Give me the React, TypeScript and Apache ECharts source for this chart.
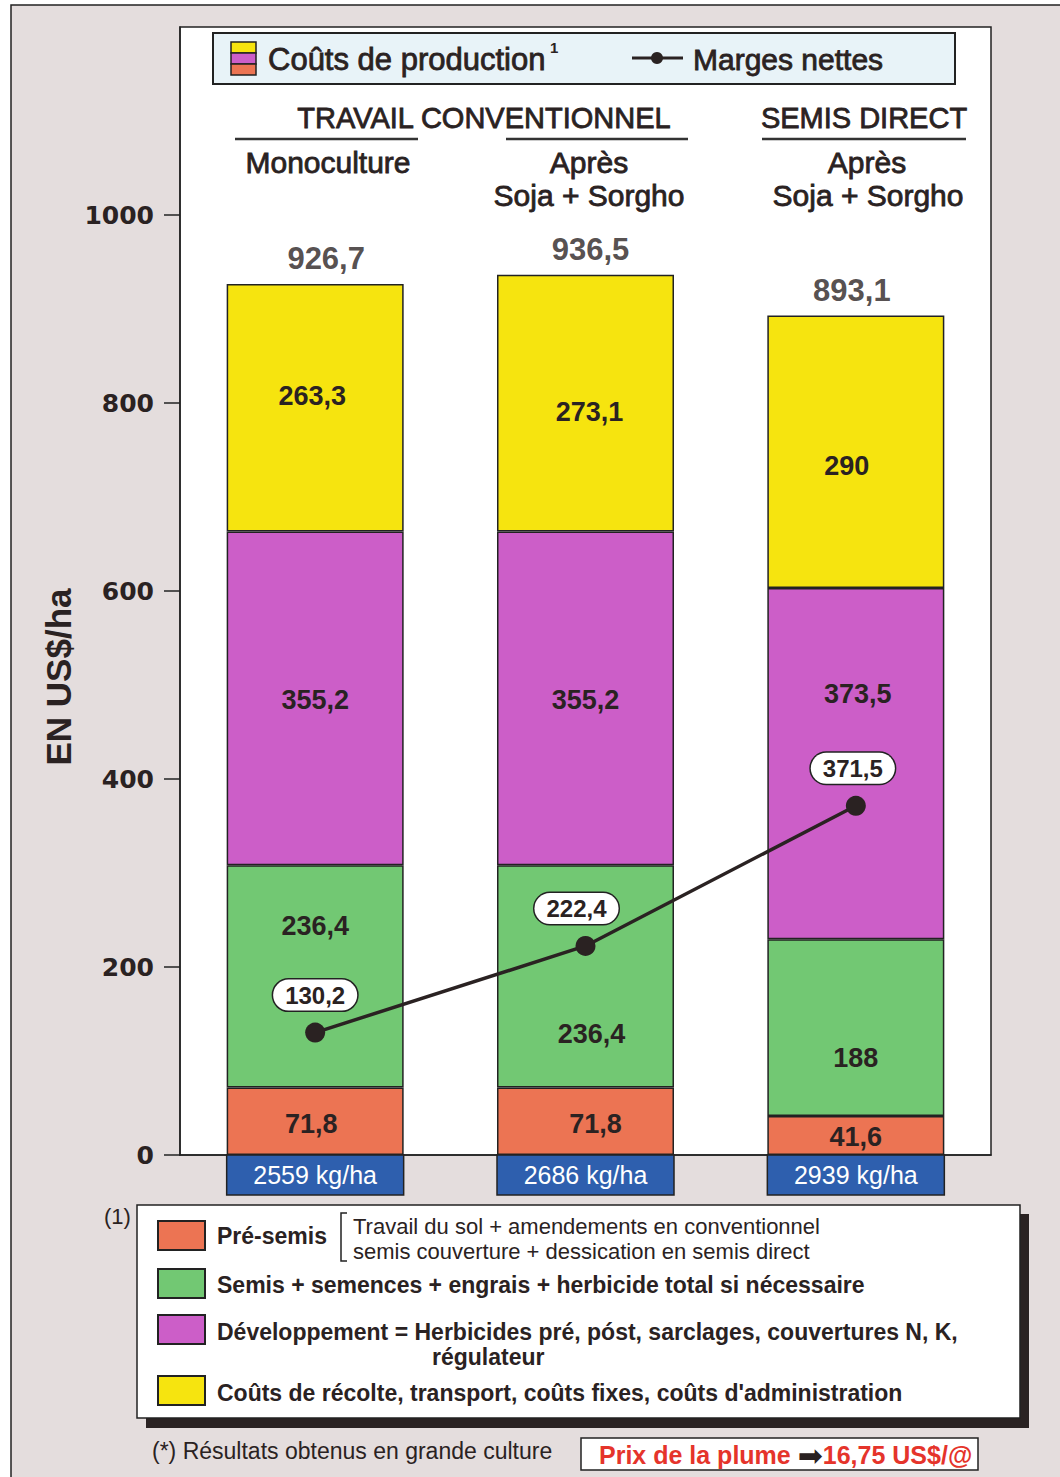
import React, { useEffect, useRef } from 'react';
import * as echarts from 'echarts';

// ---------- data ----------
const categories = ['Monoculture', 'Après Soja + Sorgho (TC)', 'Après Soja + Sorgho (SD)'];
const preSemis = [71.8, 71.8, 41.6];
const semis = [236.4, 236.4, 188];
const developpement = [355.2, 355.2, 373.5];
const recolte = [263.3, 273.1, 290];
const totals = [926.7, 936.5, 893.1];
const marges = [130.2, 222.4, 371.5];
const rendements = [2559, 2686, 2939];
const yTicks = [0, 200, 400, 600, 800, 1000];

// ---------- layout (label nudges, px) ----------
const offPre = [[-4, 3], [10, 3], [0, 2]];
const offSemis = [[0, -50], [6, 58], [0, 30]];
const offDev = [[0, 2], [0, 2], [2, -70]];
const offRec = [[-3, -12], [4, 9], [-9, 14]];
const offTot = [[11, 0], [5, 0], [-4, 0]];
const offMarge = [[0, 0], [-9, 0], [-3, 0]];

const FF = '"Liberation Sans", Arial, sans-serif';
const C_ORANGE = '#ec7453';
const C_GREEN = '#72c873';
const C_PURPLE = '#cc5ec8';
const C_YELLOW = '#f6e40f';
const C_BLUE = '#2e5fae';
const C_INK = '#2a2222';
const C_RED = '#e5342b';
const BAR_W = 177;

const fmt = (v: number) => String(v).replace('.', ',');

const txt = (
  text: string,
  x: number,
  y: number,
  font: string,
  align = 'left',
  fill = C_INK,
  extra: any = {},
  heavy = 0
) => ({
  type: 'text',
  x,
  y,
  ...extra,
  style: {
    text,
    font,
    fill,
    textAlign: align,
    align,
    textVerticalAlign: 'middle',
    verticalAlign: 'middle',
    ...(heavy ? { stroke: fill, lineWidth: heavy } : {}),
  },
});

const stackSeries = (name: string, values: number[], color: string, offs: number[][]) => ({
  name,
  type: 'bar',
  stack: 'cost',
  barWidth: BAR_W,
  itemStyle: { color, borderColor: '#222', borderWidth: 1.5 },
  label: {
    show: true,
    position: 'inside',
    fontFamily: FF,
    fontWeight: 'bold',
    fontSize: 27,
    color: C_INK,
    formatter: (p: any) => fmt(p.value),
  },
  data: values.map((v, i) => ({ value: v, label: { offset: offs[i] } })),
  z: 2,
});

function buildOption() {
  const graphics: any[] = [];
  // outer frame
  graphics.push({
    type: 'rect',
    z: -10,
    shape: { x: 11, y: 5, width: 1100, height: 1500 },
    style: { fill: '#e4dddd', stroke: '#222', lineWidth: 1.5 },
  });
  // top legend box
  graphics.push({
    type: 'rect',
    shape: { x: 213, y: 33, width: 742, height: 51 },
    style: { fill: '#e8f3f8', stroke: '#222', lineWidth: 2 },
  });
  [C_YELLOW, C_PURPLE, C_ORANGE].forEach((c, i) => {
    graphics.push({
      type: 'rect',
      shape: { x: 231, y: 42 + i * 11, width: 25, height: 11 },
      style: { fill: c, stroke: '#222', lineWidth: 1.5 },
    });
  });
  graphics.push(txt('Coûts de production', 268, 59, `31px ${FF}`, 'left', C_INK, {}, 0.8));
  graphics.push(txt('1', 550, 47, `bold 15px ${FF}`));
  graphics.push({ type: 'line', shape: { x1: 632, y1: 58, x2: 683, y2: 58 }, style: { stroke: C_INK, lineWidth: 3 } });
  graphics.push({ type: 'circle', shape: { cx: 657, cy: 58, r: 6 }, style: { fill: C_INK } });
  graphics.push(txt('Marges nettes', 693, 59, `30px ${FF}`, 'left', C_INK, {}, 0.8));

  // headers
  graphics.push(txt('TRAVAIL CONVENTIONNEL', 484, 118, `29px ${FF}`, 'center', C_INK, {}, 0.8));
  graphics.push(txt('SEMIS DIRECT', 864, 118, `29px ${FF}`, 'center', C_INK, {}, 0.8));
  [[235, 418], [506, 688], [762, 966]].forEach(([a, b]) => {
    graphics.push({ type: 'line', shape: { x1: a, y1: 139, x2: b, y2: 139 }, style: { stroke: '#333', lineWidth: 2.5 } });
  });
  graphics.push(txt('Monoculture', 328, 162, `30px ${FF}`, 'center', C_INK, {}, 0.8));
  graphics.push(txt('Après', 589, 162, `30px ${FF}`, 'center', C_INK, {}, 0.8));
  graphics.push(txt('Soja + Sorgho', 589, 195, `30px ${FF}`, 'center', C_INK, {}, 0.8));
  graphics.push(txt('Après', 867, 162, `30px ${FF}`, 'center', C_INK, {}, 0.8));
  graphics.push(txt('Soja + Sorgho', 868, 195, `30px ${FF}`, 'center', C_INK, {}, 0.8));

  // y axis title
  graphics.push(txt('EN US$/ha', 58, 677, `bold 35px ${FF}`, 'center', C_INK, { rotation: Math.PI / 2 }));

  // bottom legend
  graphics.push({ type: 'rect', shape: { x: 146, y: 1214, width: 883, height: 214 }, style: { fill: '#2a2222' } });
  graphics.push({ type: 'rect', shape: { x: 137, y: 1205, width: 883, height: 213 }, style: { fill: '#fff', stroke: '#222', lineWidth: 1.5 } });
  graphics.push(txt('(1)', 104, 1216, `22px ${FF}`));
  const sw = [
    [C_ORANGE, 1221],
    [C_GREEN, 1269],
    [C_PURPLE, 1315],
    [C_YELLOW, 1376],
  ];
  sw.forEach(([c, y]) => {
    graphics.push({
      type: 'rect',
      shape: { x: 158, y: y as number, width: 47, height: 29 },
      style: { fill: c as string, stroke: '#222', lineWidth: 2 },
    });
  });
  graphics.push(txt('Pré-semis', 217, 1236, `bold 23px ${FF}`));
  graphics.push({
    type: 'polyline',
    shape: { points: [[347, 1213], [341, 1213], [341, 1261], [347, 1261]] },
    style: { stroke: '#222', lineWidth: 1.5, fill: null },
  });
  graphics.push(txt('Travail du sol + amendements en conventionnel', 353, 1226, `22px ${FF}`));
  graphics.push(txt('semis couverture + dessication en semis direct', 353, 1251, `22px ${FF}`));
  graphics.push(txt('Semis + semences + engrais + herbicide total si nécessaire', 217, 1285, `bold 23px ${FF}`));
  graphics.push(txt('Développement = Herbicides pré, póst, sarclages, couvertures N, K,', 217, 1332, `bold 23px ${FF}`));
  graphics.push(txt('régulateur', 432, 1357, `bold 23px ${FF}`));
  graphics.push(txt("Coûts de récolte, transport, coûts fixes, coûts d'administration", 217, 1393, `bold 23px ${FF}`));

  // footer
  graphics.push(txt('(*) Résultats obtenus en grande culture', 152, 1451, `23px ${FF}`));
  graphics.push({ type: 'rect', shape: { x: 581, y: 1438, width: 397, height: 32 }, style: { fill: '#fff', stroke: '#222', lineWidth: 1.5 } });
  graphics.push({
    type: 'text',
    x: 599,
    y: 1455,
    style: {
      text: '{r|Prix de la plume }{a|➡}{r|16,75 US$/@}',
      textVerticalAlign: 'middle',
      verticalAlign: 'middle',
      rich: {
        r: { fontFamily: FF, fontWeight: 'bold', fontSize: 25, fill: C_RED, color: C_RED },
        a: { fontFamily: '"DejaVu Sans", sans-serif', fontSize: 30, fill: C_INK, color: C_INK },
      },
    },
  });

  return {
    animation: false,
    backgroundColor: 'transparent',
    grid: {
      left: 180,
      right: 69,
      top: 27,
      bottom: 322,
      show: true,
      backgroundColor: '#fff',
      borderColor: '#222',
      borderWidth: 1.5,
    },
    xAxis: {
      type: 'category',
      data: categories,
      axisLabel: { show: false },
      axisTick: { show: false },
      axisLine: { show: true, lineStyle: { color: '#222', width: 1.5 } },
    },
    yAxis: {
      type: 'value',
      min: 0,
      max: 1200,
      interval: 200,
      splitLine: { show: false },
      axisLine: { show: true, lineStyle: { color: '#222', width: 1.5 } },
      axisTick: { show: true, length: 16, lineStyle: { color: '#222', width: 1.5 }, customValues: yTicks },
      axisLabel: {
        customValues: yTicks,
        margin: 26,
        fontFamily: '"DejaVu Sans", sans-serif',
        fontWeight: 'bold',
        fontSize: 25,
        color: C_INK,
        formatter: (v: number) => String(v),
      },
    },
    graphic: { elements: graphics },
    series: [
      stackSeries('Pré-semis', preSemis, C_ORANGE, offPre),
      stackSeries('Semis', semis, C_GREEN, offSemis),
      stackSeries('Développement', developpement, C_PURPLE, offDev),
      stackSeries('Coûts de récolte', recolte, C_YELLOW, offRec),
      {
        name: 'Total',
        type: 'scatter',
        symbolSize: 1,
        itemStyle: { color: 'rgba(0,0,0,0)' },
        label: {
          show: true,
          position: 'top',
          distance: 9,
          fontFamily: FF,
          fontWeight: 'bold',
          fontSize: 31,
          color: C_INK,
          formatter: (p: any) => fmt(p.value),
        },
        data: totals.map((v, i) => ({ value: v, label: { offset: offTot[i] } })),
        z: 3,
      },
      {
        name: 'Rendement',
        type: 'custom',
        clip: false,
        encode: { x: 0, y: 1 },
        data: rendements.map((r, i) => [i, 0, r]),
        renderItem: (params: any, api: any) => {
          const p = api.coord([api.value(0), 0]);
          return {
            type: 'group',
            children: [
              {
                type: 'rect',
                shape: { x: p[0] - BAR_W / 2, y: p[1], width: BAR_W, height: 40 },
                style: { fill: C_BLUE, stroke: '#222', lineWidth: 1.5 },
              },
              {
                type: 'text',
                style: {
                  text: `${api.value(2)} kg/ha`,
                  x: p[0],
                  y: p[1] + 20,
                  align: 'center',
                  verticalAlign: 'middle',
                  textAlign: 'center',
                  textVerticalAlign: 'middle',
                  fill: '#fff',
                  font: `25px ${FF}`,
                },
              },
            ],
          };
        },
        z: 2,
      },
      {
        name: 'Marges nettes',
        type: 'line',
        data: marges.map((v, i) => ({ value: v, label: { offset: offMarge[i] } })),
        symbol: 'circle',
        symbolSize: 20,
        itemStyle: { color: C_INK },
        lineStyle: { color: C_INK, width: 3.5 },
        label: {
          show: true,
          position: 'top',
          distance: 12,
          fontFamily: FF,
          fontWeight: 'bold',
          fontSize: 24,
          color: C_INK,
          backgroundColor: '#fff',
          borderColor: '#222',
          borderWidth: 1.5,
          borderRadius: 16,
          padding: [4, 12, 3, 12],
          formatter: (p: any) => fmt(p.value),
        },
        z: 6,
      },
    ],
  };
}

export default function App() {
  const ref = useRef<HTMLDivElement>(null);
  useEffect(() => {
    if (!ref.current) return;
    const chart = echarts.init(ref.current, null, { renderer: 'svg' });
    chart.setOption(buildOption() as any);
    return () => chart.dispose();
  }, []);
  return (
    <div
      ref={ref}
      style={{ position: 'absolute', left: 0, top: 0, width: 1060, height: 1477, background: '#fff' }}
    />
  );
}
